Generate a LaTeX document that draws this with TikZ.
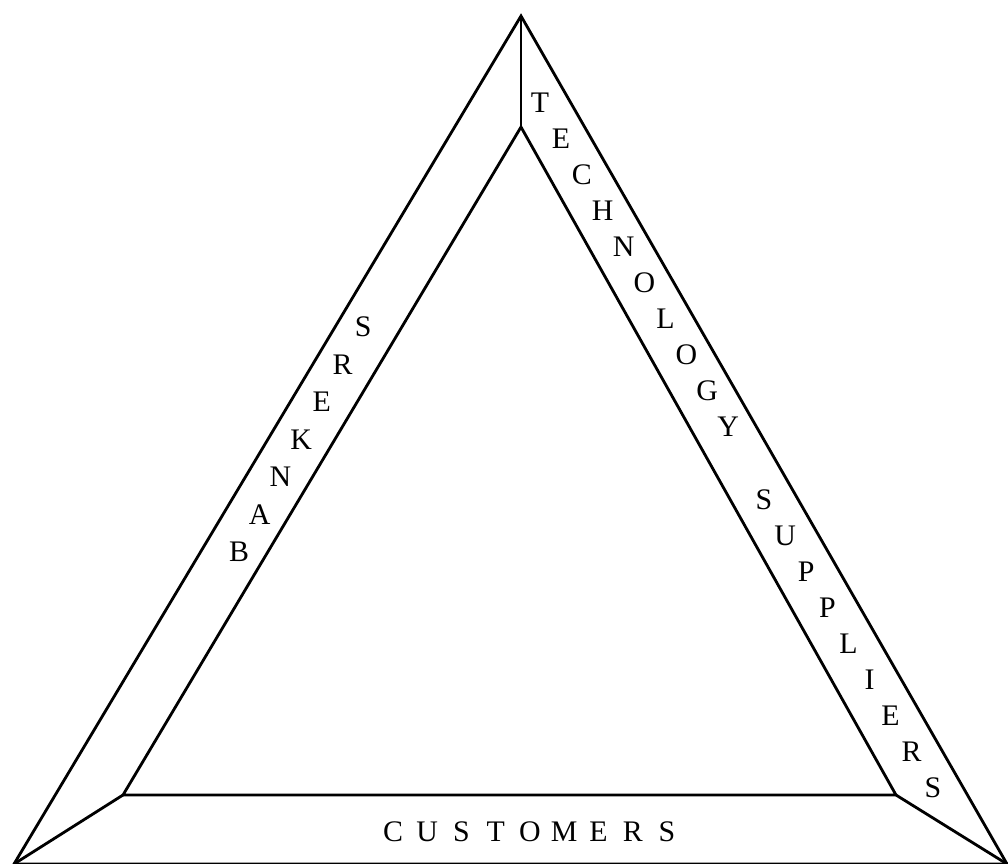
\documentclass[tikz,border=0pt]{standalone}
\usepackage{fontspec}
\setmainfont{Liberation Serif}
\usepackage{tikz}
\tikzset{
  edge/.style={line width=1.6pt, line join=miter},
  letter/.style={inner sep=0pt, font=\fontsize{17}{19}\selectfont},
}

\begin{document}
\begin{tikzpicture}[x=0.02cm, y=-0.02cm]
\useasboundingbox (0,0) rectangle (1008,864);
% --- Corners ---
\coordinate (top) at (521,16);
\coordinate (bl) at (14,864);
\coordinate (br) at (1007,864);
\coordinate (itop) at (521,127);
\coordinate (ibl) at (123,795);
\coordinate (ibr) at (896,795);
% --- Outer and inner triangle ---
\draw[edge] (top) -- (bl) -- (br) -- cycle;
\draw[edge] (itop) -- (ibl) -- (ibr) -- cycle;
% Bevel lines
\draw[edge] (top) -- (itop);
\draw[edge] (bl) -- (ibl);
\draw[edge] (br) -- (ibr);
% --- Side labels, one letter at a time ---
\foreach \ch [count=\i from 0] in {B,A,N,K,E,R,S} {
  \node[letter] (bank\i) at ({239+\i*20.7},{552-\i*37.5}) {\ch};
}
\foreach \ch [count=\i from 0] in {T,E,C,H,N,O,L,O,G,Y} {
  \node[letter] (tech\i) at ({540+\i*20.9},{103+\i*36}) {\ch};
}
\foreach \ch [count=\i from 0] in {S,U,P,P,L,I,E,R,S} {
  \node[letter] (supp\i) at ({764+\i*21.1},{500+\i*36}) {\ch};
}
\foreach \ch [count=\i from 0] in {C,U,S,T,O,M,E,R,S} {
  \node[letter] (cust\i) at ({393+\i*34.25},832) {\ch};
}
\end{tikzpicture}
\end{document}
